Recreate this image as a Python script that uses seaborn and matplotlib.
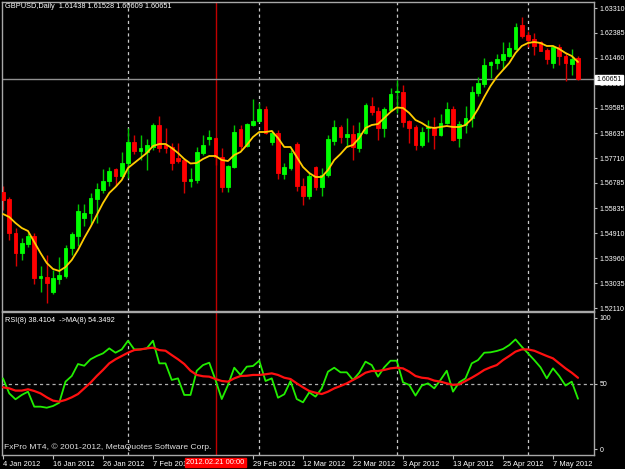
import numpy as np
import pandas as pd
import matplotlib
matplotlib.use("Agg")
import matplotlib.pyplot as plt
import seaborn as sns

# ---------------- data ----------------
open_ = [1.56441, 1.56180, 1.54910, 1.54164, 1.54500, 1.54798, 1.53230, 1.53268, 1.52708, 1.53193,
         1.53305, 1.54350, 1.54798, 1.55470, 1.55657, 1.56180, 1.56516, 1.56852, 1.57300, 1.57038,
         1.57524, 1.58308, 1.57972, 1.57934, 1.58121, 1.58942, 1.58196, 1.58121, 1.57710, 1.57636,
         1.56852, 1.56889, 1.57897, 1.58420, 1.58457, 1.57748, 1.56628, 1.57374, 1.58793, 1.58158,
         1.58942, 1.59092, 1.59540, 1.58308, 1.58644, 1.57113, 1.57337, 1.58233, 1.56665, 1.56292,
         1.57374, 1.56628, 1.57076, 1.58345, 1.58868, 1.58494, 1.58606, 1.58084, 1.58644, 1.59652,
         1.59465, 1.58830, 1.59502, 1.60174, 1.60174, 1.59092, 1.58868, 1.58196, 1.58830, 1.58868,
         1.58569, 1.59017, 1.59540, 1.58457, 1.58942, 1.59204, 1.60137, 1.60473, 1.61182, 1.61257,
         1.61369, 1.61518, 1.61780, 1.62676, 1.62302, 1.62153, 1.62041, 1.61742, 1.61257, 1.61854,
         1.61518, 1.61220, 1.61438]
high = [1.56665, 1.56254, 1.55097, 1.54724, 1.54910, 1.54910, 1.53678, 1.54089, 1.53529, 1.54014,
        1.54462, 1.54948, 1.55993, 1.55993, 1.56404, 1.56777, 1.57300, 1.57374, 1.57337, 1.57934,
        1.58830, 1.58569, 1.58569, 1.58420, 1.59017, 1.59278, 1.58830, 1.58270, 1.58270, 1.57710,
        1.57337, 1.58121, 1.58569, 1.58756, 1.58494, 1.58084, 1.57449, 1.58942, 1.58942, 1.59017,
        1.59913, 1.59764, 1.59652, 1.58756, 1.58756, 1.57524, 1.58009, 1.58308, 1.56964, 1.57150,
        1.57412, 1.57337, 1.58569, 1.59129, 1.58942, 1.59204, 1.58942, 1.59054, 1.59764, 1.59988,
        1.59614, 1.59614, 1.60324, 1.60622, 1.60436, 1.59129, 1.58942, 1.58868, 1.59129, 1.59241,
        1.59353, 1.59801, 1.59652, 1.59092, 1.59652, 1.60398, 1.60734, 1.61444, 1.61332, 1.61593,
        1.62041, 1.62041, 1.62750, 1.62974, 1.62452, 1.62377, 1.62078, 1.61817, 1.61892, 1.61966,
        1.61630, 1.61780, 1.61528]
low = [1.55769, 1.54649, 1.53678, 1.53902, 1.54388, 1.53006, 1.52708, 1.52297, 1.52633, 1.53006,
       1.53230, 1.54089, 1.54425, 1.55172, 1.55246, 1.55284, 1.56404, 1.56665, 1.56665, 1.56964,
       1.56964, 1.57860, 1.57636, 1.57262, 1.58009, 1.57934, 1.57897, 1.57262, 1.57524, 1.56404,
       1.56628, 1.56777, 1.57822, 1.58196, 1.57449, 1.56441, 1.56441, 1.57337, 1.58009, 1.58121,
       1.58905, 1.59054, 1.58606, 1.58196, 1.56926, 1.56926, 1.57262, 1.56478, 1.55956, 1.56180,
       1.56516, 1.56292, 1.57001, 1.58196, 1.58270, 1.58121, 1.57636, 1.57934, 1.58606, 1.59316,
       1.58382, 1.58494, 1.59465, 1.59390, 1.58868, 1.58270, 1.58009, 1.58121, 1.58308, 1.58046,
       1.58532, 1.58980, 1.58345, 1.58121, 1.58644, 1.58868, 1.60025, 1.60361, 1.60697, 1.61033,
       1.61033, 1.61481, 1.61742, 1.62190, 1.61854, 1.61556, 1.61705, 1.61220, 1.61070, 1.61182,
       1.60585, 1.60809, 1.60609]
close = [1.56142, 1.54910, 1.54164, 1.54537, 1.54798, 1.53230, 1.53305, 1.53044, 1.53230, 1.53342,
         1.54350, 1.54873, 1.55732, 1.55657, 1.56217, 1.56553, 1.56852, 1.57225, 1.57038, 1.57524,
         1.58308, 1.57972, 1.58084, 1.58196, 1.58942, 1.58084, 1.58084, 1.57524, 1.57598, 1.56852,
         1.56926, 1.57934, 1.58196, 1.58494, 1.57748, 1.56628, 1.57412, 1.58681, 1.58158, 1.58980,
         1.59092, 1.59540, 1.58644, 1.58644, 1.57150, 1.57374, 1.57897, 1.56665, 1.56292, 1.57038,
         1.56628, 1.57076, 1.58420, 1.58868, 1.58494, 1.58606, 1.58121, 1.58644, 1.59689, 1.59428,
         1.58830, 1.59540, 1.60100, 1.60212, 1.59054, 1.58830, 1.58196, 1.58681, 1.58868, 1.58569,
         1.59017, 1.59540, 1.58382, 1.58980, 1.59204, 1.60174, 1.60510, 1.61182, 1.61294, 1.61406,
         1.61593, 1.61817, 1.62601, 1.62265, 1.62116, 1.61892, 1.61705, 1.61406, 1.61854, 1.61518,
         1.61257, 1.61406, 1.60651]
price_ma = [1.55620, 1.55507, 1.55284, 1.55097, 1.54985, 1.54574, 1.54164, 1.53790, 1.53566, 1.53492,
            1.53641, 1.53902, 1.54276, 1.54724, 1.55134, 1.55582, 1.56030, 1.56404, 1.56628, 1.56889,
            1.57337, 1.57524, 1.57710, 1.57897, 1.58158, 1.58233, 1.58233, 1.58084, 1.57897, 1.57673,
            1.57505, 1.57524, 1.57673, 1.57785, 1.57785, 1.57636, 1.57598, 1.57822, 1.57934, 1.58196,
            1.58494, 1.58681, 1.58681, 1.58718, 1.58457, 1.58121, 1.58121, 1.57748, 1.57374, 1.57150,
            1.57001, 1.57001, 1.57262, 1.57636, 1.57860, 1.58121, 1.58196, 1.58457, 1.58830, 1.58942,
            1.58980, 1.59204, 1.59428, 1.59596, 1.59577, 1.59390, 1.59129, 1.59017, 1.58868, 1.58830,
            1.58868, 1.58905, 1.58868, 1.58868, 1.58942, 1.59166, 1.59540, 1.59988, 1.60398, 1.60734,
            1.60996, 1.61257, 1.61630, 1.61892, 1.62004, 1.62041, 1.62004, 1.61892, 1.61892, 1.61780,
            1.61630, 1.61518, 1.61294]
rsi = [53.9, 42.5, 38.0, 41.3, 43.8, 32.4, 32.4, 31.6, 32.9, 35.4,
       51.4, 55.7, 64.8, 63.5, 68.4, 70.9, 72.9, 76.7, 73.4, 75.9,
       82.5, 75.9, 75.9, 76.7, 82.5, 65.3, 65.3, 52.7, 53.9, 41.3,
       41.3, 59.7, 64.0, 65.8, 52.7, 38.2, 48.9, 62.0, 56.5, 62.8,
       63.3, 67.3, 51.9, 53.9, 39.2, 41.8, 51.9, 38.2, 35.7, 43.3,
       40.0, 46.3, 59.0, 62.0, 58.5, 58.5, 52.7, 58.2, 66.6, 64.0,
       55.2, 62.3, 67.3, 67.3, 50.9, 48.9, 40.8, 48.4, 50.1, 46.3,
       52.7, 59.7, 43.8, 50.9, 53.9, 65.3, 67.8, 73.4, 73.7, 74.7,
       76.2, 79.2, 83.5, 78.0, 72.9, 67.8, 62.3, 53.9, 61.5, 55.7,
       48.4, 51.4, 38.41]
rsi_ma = [47.1, 46.3, 44.6, 44.6, 45.6, 44.3, 42.5, 39.5, 37.0, 36.2,
          37.5, 39.5, 42.0, 46.3, 50.6, 55.7, 60.3, 65.3, 68.4, 70.9,
          73.4, 75.4, 75.9, 76.7, 77.2, 75.4, 74.9, 71.6, 68.4, 64.8,
          59.7, 56.5, 55.5, 55.2, 53.4, 51.9, 51.4, 53.9, 55.7, 55.9,
          56.5, 56.5, 57.0, 57.7, 56.5, 54.4, 53.4, 50.1, 47.1, 44.3,
          43.0, 42.0, 43.8, 46.3, 48.1, 50.1, 52.7, 55.2, 58.2, 59.5,
          59.5, 60.3, 61.5, 62.0, 61.5, 59.0, 55.7, 54.4, 53.9, 52.2,
          51.4, 50.1, 48.9, 49.4, 51.9, 54.4, 57.2, 60.3, 62.3, 64.0,
          67.8, 70.9, 74.2, 75.9, 75.9, 74.9, 72.9, 70.9, 69.1, 65.3,
          61.5, 58.2, 54.35]

price_ticks = [1.63310, 1.62385, 1.61460, 1.60510, 1.59585, 1.58635, 1.57710,
               1.56785, 1.55835, 1.54910, 1.53960, 1.53035, 1.52110]
price_tick_labels = ["1.63310", "1.62385", "1.61460", "1.60510", "1.59585", "1.58635", "1.57710",
                     "1.56785", "1.55835", "1.54910", "1.53960", "1.53035", "1.52110"]
date_tick_pos = [0, 8, 16, 24, 40, 48, 56, 64, 72, 80, 88]
date_tick_labels = ["4 Jan 2012", "16 Jan 2012", "26 Jan 2012", "7 Feb 2012", "29 Feb 2012",
                    "12 Mar 2012", "22 Mar 2012", "3 Apr 2012", "13 Apr 2012", "25 Apr 2012",
                    "7 May 2012"]
month_starts = [20, 41, 63, 84]
marker_bar = 34
marker_label = "2012.02.21 00:00"
rsi_ticks = [100, 50, 0]
rsi_tick_labels = ["100", "50", "0"]
last_price = 1.60651
title_text = "GBPUSD,Daily  1.61438 1.61528 1.60609 1.60651"
rsi_text = "RSI(8) 38.4104  ->MA(8) 54.3492"
copyright_text = "FxPro MT4, \u00a9 2001-2012, MetaQuotes Software Corp."

# ---------------- style ----------------
sns.set_theme(style="dark", rc={"axes.facecolor": "black", "figure.facecolor": "black",
                                "axes.edgecolor": "#a8a8a8", "axes.grid": False})
plt.rcParams["font.family"] = ["Liberation Sans", "DejaVu Sans"]

W, H = 625, 469
fig = plt.figure(figsize=(W / 100, H / 100), dpi=100, facecolor="black")


def rect(x0, y0, x1, y1):
    return [x0 / W, 1 - y1 / H, (x1 - x0) / W, (y1 - y0) / H]


ax = fig.add_axes(rect(2, 2, 594, 310.5))
ax2 = fig.add_axes(rect(2, 312, 594, 455))

n = len(close)
idx = np.arange(n)
df = pd.DataFrame({"i": idx, "open": open_, "high": high, "low": low, "close": close,
                   "ma": price_ma, "rsi": rsi, "rsi_ma": rsi_ma})
up = df["close"] >= df["open"]
body_col = np.where(up, "#00ff00", "#ff0000")
wick_col = np.where(up, "#00c800", "#d80000")

# grid / markers
for a in (ax, ax2):
    for m in month_starts:
        a.axvline(m, color="#c8c8c8", lw=0.9, ls=(0, (2.5, 2.5)), zorder=1)
    a.axvline(marker_bar, color="#c00000", lw=1.0, zorder=1)
ax.axhline(last_price, color="#909090", lw=1.0, zorder=1)
ax2.axhline(50, color="#b0b0b0", lw=0.9, ls=(0, (2.5, 2.5)), zorder=1)

# candles
ax.vlines(df["i"], df["low"], df["high"], colors=wick_col, lw=1.0, zorder=2)
bottoms = np.minimum(df["open"], df["close"])
heights = np.abs(df["close"] - df["open"])
ax.bar(df["i"], heights, bottom=bottoms, width=0.62, color=body_col,
       edgecolor=body_col, linewidth=0.6, zorder=3)

# moving average
sns.lineplot(data=df, x="i", y="ma", ax=ax, color="#ffcc00", lw=1.3, zorder=4, estimator=None)

# RSI
sns.lineplot(data=df, x="i", y="rsi", ax=ax2, color="#22ee00", lw=1.3, zorder=3, estimator=None)
sns.lineplot(data=df, x="i", y="rsi_ma", ax=ax2, color="#ff1010", lw=1.6, zorder=4, estimator=None)

# limits
xl = (-0.16, 94.56)
ax.set_xlim(*xl)
ax2.set_xlim(*xl)
ax.set_ylim(1.52017, 1.63534)
ax2.set_ylim(-4.33, 104.33)

fs = 5.4
yfs = 5.0
for a in (ax, ax2):
    a.set_xlabel("")
    a.set_ylabel("")
    a.yaxis.tick_right()
    a.tick_params(axis="y", which="both", right=True, left=False, length=2.5, width=0.8,
                  color="#c0c0c0", labelcolor="white", labelsize=yfs, pad=1.5)
    for s in a.spines.values():
        s.set_color("#a8a8a8")
        s.set_linewidth(1.0)

ax.set_yticks(price_ticks)
ax.set_yticklabels(price_tick_labels)
ax.set_xticks([])
ax2.set_yticks(rsi_ticks)
ax2.set_yticklabels(rsi_tick_labels)
ax2.set_xticks(date_tick_pos)
ax2.set_xticklabels(date_tick_labels)
ax2.tick_params(axis="x", bottom=True, length=3, width=0.8, color="#c0c0c0",
                labelcolor="white", labelsize=fs, pad=1)
for lab in ax2.get_xticklabels():
    lab.set_ha("left")

# last price box
ax.text(1.004, last_price, f"{last_price:.5f}", transform=ax.get_yaxis_transform(),
        ha="left", va="center", fontsize=yfs, color="black", zorder=10, clip_on=False,
        bbox=dict(boxstyle="square,pad=0.15", fc="white", ec="white"))

# marker date box
ax2.text(marker_bar, -0.052, marker_label, transform=ax2.get_xaxis_transform(),
         ha="center", va="center", fontsize=fs, color="white", zorder=10, clip_on=False,
         bbox=dict(boxstyle="square,pad=0.15", fc="#ff0000", ec="#ff0000"))

# texts
fig.text(5 / W, 1 - 7 / H, title_text, color="white", fontsize=5.3, ha="left", va="center")
fig.text(5 / W, 1 - 320 / H, rsi_text, color="white", fontsize=5.3, ha="left", va="center")
fig.text(4 / W, 1 - 447 / H, copyright_text, color="#e0e0e0", fontsize=6.1, ha="left", va="center")

fig.savefig("out.png", dpi=100, facecolor="black")
